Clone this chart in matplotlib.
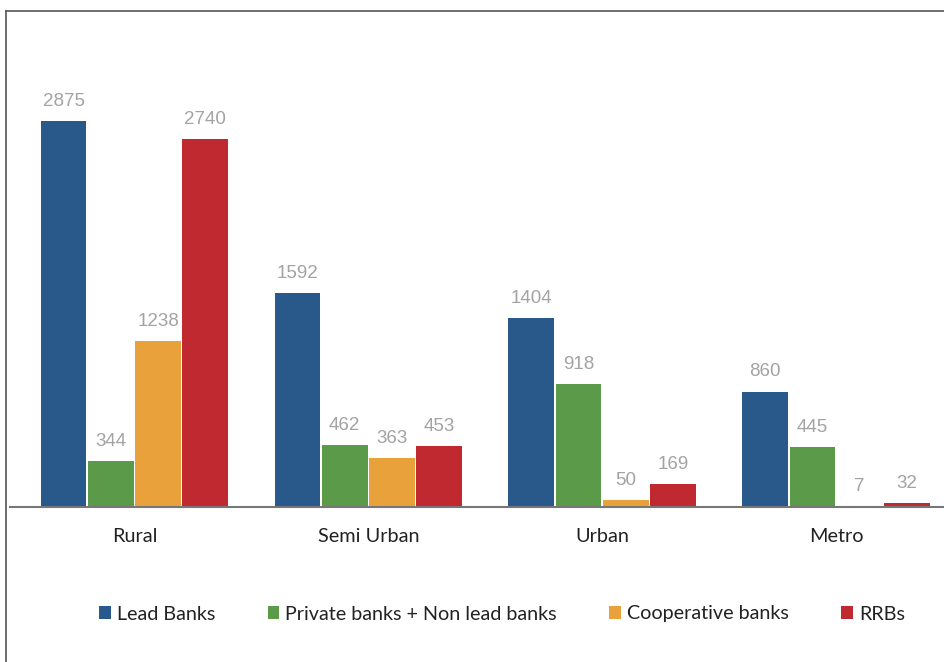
import matplotlib
matplotlib.use("Agg")
import matplotlib.pyplot as plt
import numpy as np
from matplotlib.lines import Line2D

categories = ["Rural", "Semi Urban", "Urban", "Metro"]
series_names = ["Lead Banks", "Private banks + Non lead banks", "Cooperative banks", "RRBs"]
lead_banks = [2875, 1592, 1404, 860]
private_banks = [344, 462, 918, 445]
cooperative_banks = [1238, 363, 50, 7]
rrbs = [2740, 453, 169, 32]
colors = ["#29588A", "#5B9A48", "#E9A23B", "#C0292F"]

plt.rcParams['font.family'] = ['Lato', 'DejaVu Sans']

W, H = 944, 662
fig = plt.figure(figsize=(W/100, H/100), dpi=100)
ax = fig.add_axes([10/W, 1-507/H, (944-10)/W, (507-40)/H])

x = np.arange(len(categories))
pitch = 47.3/234
width = pitch - 1.5/234
all_series = [lead_banks, private_banks, cooperative_banks, rrbs]
for i, (vals, name, c) in enumerate(zip(all_series, series_names, colors)):
    pos = x + (i - 1.5)*pitch
    bars = ax.bar(pos, vals, width=width, color=c, edgecolor="none", label=name)
    for b, v in zip(bars, vals):
        ax.annotate(str(v), (b.get_x()+b.get_width()/2, v), xytext=(0, 8), textcoords="offset points",
                    ha="center", va="bottom", fontsize=13.5, color="#a3a3a3", family="Liberation Sans")

ax.set_xlim(-(134.5-10)/234, 3+(944-836)/234)
ax.set_ylim(0, 467/0.13426)
for s in ["top", "right", "left"]:
    ax.spines[s].set_visible(False)
ax.spines["bottom"].set_color("#777777")
ax.spines["bottom"].set_linewidth(1.5)
ax.set_yticks([])
ax.set_xticks(x)
ax.set_xticklabels(categories, fontsize=14.3, color="#222222")
ax.tick_params(axis="x", length=0, pad=15)

handles, labels = ax.get_legend_handles_labels()
leg = fig.legend(handles, labels, loc="center", bbox_to_anchor=(502/W, 1-614/H), ncol=4, frameon=False,
                 fontsize=14.2, handlelength=0.6, handleheight=0.6, handletextpad=0.3, columnspacing=2.65)
for t in leg.get_texts():
    t.set_color("#222222")

fig.add_artist(Line2D([6/W, 6/W], [0, 1-11/H], color="#555555", linewidth=1.2, transform=fig.transFigure))
fig.add_artist(Line2D([6/W, 1], [1-11/H, 1-11/H], color="#555555", linewidth=1.2, transform=fig.transFigure))

fig.savefig("out.png", dpi=100)
